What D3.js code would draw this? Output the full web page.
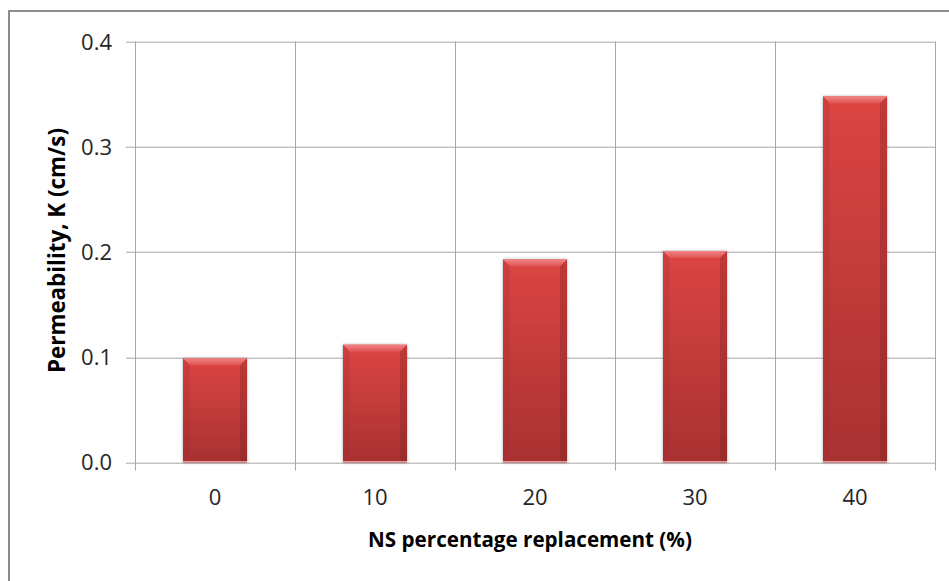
<!DOCTYPE html>
<html>
<head>
<meta charset="utf-8">
<script src="https://cdn.jsdelivr.net/npm/d3@7"></script>
<style>
  html, body { margin: 0; padding: 0; background: #fff; }
  svg { display: block; }
</style>
</head>
<body>
<svg id="chart" width="949" height="581"></svg>
<script>
// Permeability K (cm/s) for each nano-silica replacement level
const categories = ["0", "10", "20", "30", "40"];
const permeability = [0.099, 0.112, 0.193, 0.201, 0.348];
const yTicks = [0.0, 0.1, 0.2, 0.3, 0.4];

const svg = d3.select("#chart");
const W = 949, H = 581;
const m = { left: 135, right: 14, top: 41.7, bottom: 118.5 };
const pw = W - m.left - m.right, ph = H - m.top - m.bottom;
const font = "'Open Sans', 'DejaVu Sans', sans-serif";

// shrink/grow a text node's font size so it spans the given width
function fitWidth(sel, target, base) {
  sel.attr("font-size", base);
  const len = sel.node().getComputedTextLength();
  sel.attr("font-size", base * target / len);
}

// outer chart frame (runs off the right/bottom edge)
svg.append("path")
  .attr("d", `M9,${H + 2} V11 H${W + 2}`)
  .attr("fill", "none").attr("stroke", "#8c8c8c").attr("stroke-width", 2);

const x = d3.scaleBand().domain(categories).range([0, pw]).paddingInner(0.6).paddingOuter(0.3);
const xCat = d3.scaleBand().domain(categories).range([0, pw]);
const y = d3.scaleLinear().domain([0, 0.4]).range([ph, 0]);

const g = svg.append("g").attr("transform", `translate(${m.left},${m.top})`);

// gradients and shadow for the bevelled bars
const defs = svg.append("defs");
const grad = defs.append("linearGradient").attr("id", "barFill")
  .attr("x1", 0).attr("y1", 0).attr("x2", 0).attr("y2", 1);
grad.append("stop").attr("offset", "0%").attr("stop-color", "#dc4543");
grad.append("stop").attr("offset", "100%").attr("stop-color", "#a83131");
const topGrad = defs.append("linearGradient").attr("id", "topBevel")
  .attr("x1", 0).attr("y1", 0).attr("x2", 0).attr("y2", 1);
topGrad.append("stop").attr("offset", "0%").attr("stop-color", "#f28484");
topGrad.append("stop").attr("offset", "100%").attr("stop-color", "#e05252");
const sh = defs.append("filter").attr("id", "shadow")
  .attr("x", "-20%").attr("y", "-20%").attr("width", "140%").attr("height", "140%");
sh.append("feDropShadow").attr("dx", 0).attr("dy", 0).attr("stdDeviation", 1.6)
  .attr("flood-color", "#000").attr("flood-opacity", 0.35);

// horizontal gridlines
g.append("g").selectAll("line").data(yTicks).join("line")
  .attr("x1", -9).attr("x2", pw)
  .attr("y1", d => Math.round(y(d)) + 0.5).attr("y2", d => Math.round(y(d)) + 0.5)
  .attr("stroke", "#a6a6a6").attr("stroke-width", 1);

// vertical gridlines at category boundaries
const bounds = d3.range(categories.length + 1).map(i => i * xCat.step());
g.append("g").selectAll("line").data(bounds).join("line")
  .attr("x1", d => Math.round(d) + 0.5).attr("x2", d => Math.round(d) + 0.5)
  .attr("y1", 0).attr("y2", ph + 8)
  .attr("stroke", "#a6a6a6").attr("stroke-width", 1);

// bars
const bw = x.bandwidth();
const bev = 7;
const bars = g.append("g").selectAll("g").data(permeability).join("g")
  .attr("transform", (d, i) => `translate(${x(categories[i])},${y(d)})`);
bars.append("rect")
  .attr("width", bw).attr("height", d => ph - y(d))
  .attr("fill", "url(#barFill)").attr("filter", "url(#shadow)");
// top bevel
bars.append("path")
  .attr("d", `M0,0 H${bw} L${bw - bev},${bev} H${bev} Z`)
  .attr("fill", "url(#topBevel)");
// side bevels
bars.append("path")
  .attr("d", d => `M0,0 L${bev},${bev} V${ph - y(d)} H0 Z`)
  .attr("fill", "#9c2a2a").attr("opacity", 0.2);
bars.append("path")
  .attr("d", d => `M${bw},0 L${bw - bev},${bev} V${ph - y(d)} H${bw} Z`)
  .attr("fill", "#7a1f1f").attr("opacity", 0.3);
// light bottom edge
bars.append("rect")
  .attr("y", d => ph - y(d) - 1.5).attr("width", bw).attr("height", 1.5)
  .attr("fill", "#e79a9a");

// y tick labels
g.append("g").selectAll("text").data(yTicks).join("text")
  .attr("x", -23).attr("y", d => y(d))
  .attr("dy", "0.36em").attr("text-anchor", "end")
  .attr("font-family", font).attr("font-size", 22).attr("fill", "#262626")
  .text(d => d.toFixed(1));

// x tick labels
g.append("g").selectAll("text").data(categories).join("text")
  .attr("x", d => xCat(d) + xCat.bandwidth() / 2).attr("y", 497.5 - m.top)
  .attr("dy", "0.36em").attr("text-anchor", "middle")
  .attr("font-family", font).attr("font-size", 22).attr("fill", "#262626")
  .text(d => d);

// axis titles
const xTitle = svg.append("text")
  .attr("x", 530).attr("y", 546.5)
  .attr("text-anchor", "middle")
  .attr("font-family", font).attr("font-weight", "bold").attr("fill", "#000")
  .text("NS percentage replacement (%)");
fitWidth(xTitle, 324, 20);

const yTitle = svg.append("text")
  .attr("transform", `translate(65,250.5) rotate(-90)`)
  .attr("text-anchor", "middle")
  .attr("font-family", font).attr("font-weight", "bold").attr("fill", "#000")
  .text("Permeability, K (cm/s)");
fitWidth(yTitle, 245, 20);
</script>
</body>
</html>
